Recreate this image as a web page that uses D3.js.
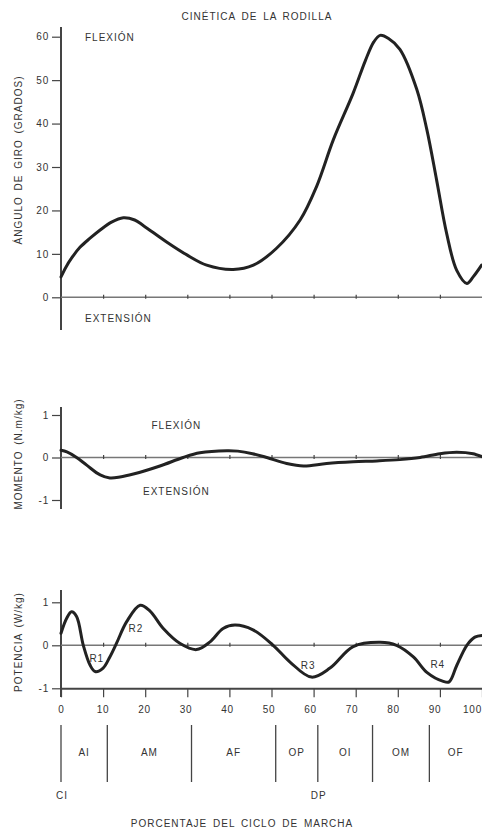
<!DOCTYPE html>
<html>
<head>
<meta charset="utf-8">
<script src="https://cdn.jsdelivr.net/npm/d3@7"></script>
<style>
  body { margin: 0; background: #fff; }
  svg text { font-family: "Liberation Sans", Arial, sans-serif; fill: #333; }
</style>
</head>
<body>
<div id="chart"></div>
<script>
// percent of gait cycle for each series
const anglePct = [0, 1.2, 2.5, 4.5, 6.9, 9.3, 12, 14.8, 17.5, 19.6, 25, 30, 34.6, 40.9, 45.7, 51.2, 56.8, 60.7, 64.7, 69.4, 72.3, 74.3, 75.8, 77.8, 80.5, 84.5, 86.9, 89.2, 91.6, 94, 96.4, 97.9, 99.9];
const angleDeg = [4.7, 7, 9, 11.5, 13.6, 15.5, 17.3, 18.3, 17.8, 16.5, 12.8, 9.7, 7.4, 6.4, 7.4, 11.3, 17.8, 25.5, 36.3, 47, 54.5, 58.8, 60.3, 59.6, 57.1, 47.9, 38.6, 27.1, 14.7, 6.2, 3.2, 4.7, 7.4];

const momentPct = [0, 1.4, 3.7, 6.1, 9.3, 11.6, 14, 17.2, 23.5, 29, 33, 39.4, 42, 45.5, 48.9, 53.6, 57.6, 63.1, 69.4, 75, 80.5, 85.3, 90, 94, 97.9, 100];
const momentVal = [0.17, 0.13, 0, -0.18, -0.41, -0.48, -0.46, -0.39, -0.2, 0, 0.11, 0.16, 0.15, 0.09, 0, -0.14, -0.2, -0.14, -0.1, -0.08, -0.05, 0, 0.09, 0.125, 0.09, 0.02];

const powerPct = [0, 1.35, 2.5, 3.7, 5.3, 6.9, 8.1, 10, 11.6, 13.2, 15.6, 18.8, 21.1, 24.3, 28.3, 32.2, 35.4, 38.5, 41.3, 45.6, 50.4, 54.4, 59.5, 63.9, 69.4, 75.8, 79.7, 83.7, 86.9, 90.8, 92.2, 94, 96.4, 98.3, 100];
const powerVal = [0.28, 0.63, 0.78, 0.67, 0, -0.46, -0.61, -0.53, -0.27, 0.05, 0.55, 0.93, 0.8, 0.39, 0.04, -0.1, 0.08, 0.39, 0.47, 0.36, 0, -0.39, -0.74, -0.53, -0.03, 0.07, 0, -0.27, -0.63, -0.84, -0.85, -0.47, 0, 0.19, 0.23];

const angleTicks = [0, 10, 20, 30, 40, 50, 60];
const unitTicks = [-1, 0, 1];
const pctTicks = [0, 10, 20, 30, 40, 50, 60, 70, 80, 90, 100];

// gait phases
const phaseBounds = [0, 11, 31, 51, 61, 74, 87.5];
const phaseLabels = ["AI", "AM", "AF", "OP", "OI", "OM", "OF"];
const eventPct = [0, 61];
const eventLabels = ["CI", "DP"];

const powerNotes = [{t: "R1", x: 8.5, y: -0.3}, {t: "R2", x: 17.8, y: 0.4}, {t: "R3", x: 58.7, y: -0.47}, {t: "R4", x: 89.5, y: -0.44}];

const width = 482, height = 829;
const svg = d3.select("#chart").append("svg")
    .attr("width", width)
    .attr("height", height);

// scales
let x = d3.scaleLinear().domain([0, 100]).range([61, 482]);
let yAngle = d3.scaleLinear().domain([0, 60]).range([297.3, 36.7]);
let yMoment = d3.scaleLinear().domain([-1, 1]).range([500, 415]);
let yPower = d3.scaleLinear().domain([-1, 1]).range([688.3, 602.3]);

const axisCol = "#444", zeroCol = "#777", curveCol = "#222";

function letters(sel, size, ls, ws){
    sel.style("font-size", size + "px")
       .style("letter-spacing", ls + "px")
       .style("word-spacing", ws + "px");
    return sel;
}

function yAxis(y, ticks, top, bottom){
    let g = svg.append("g")
        .attr("transform", "translate(" + x(0) + ",0)")
        .call(d3.axisLeft(y).tickValues(ticks).tickSize(9).tickPadding(3).tickFormat(d => String(d)));
    g.select(".domain").remove();
    g.selectAll(".tick line").attr("stroke", axisCol).attr("stroke-width", 1.2);
    letters(g.selectAll("text"), 10, 0.8, 0).style("font-family", "Liberation Sans, Arial, sans-serif").attr("fill", "#333");
    g.append("line")
        .attr("x1", 0).attr("x2", 0)
        .attr("y1", top).attr("y2", bottom)
        .attr("stroke", axisCol).attr("stroke-width", 2);
}

function zeroLine(y){
    svg.append("line")
        .attr("x1", x(0)).attr("x2", x(100))
        .attr("y1", y(0)).attr("y2", y(0))
        .attr("stroke", zeroCol).attr("stroke-width", 1.4);
    let g = svg.append("g")
        .attr("transform", "translate(0," + (y(0) + 1.5) + ")")
        .call(d3.axisTop(x).tickValues(pctTicks.slice(1, 10)).tickSize(4).tickFormat(""));
    g.select(".domain").remove();
    g.selectAll(".tick line").attr("stroke", axisCol).attr("stroke-width", 1.2);
}

function curve(px, vals, y){
    let pts = px.map((p, i) => [p, vals[i]]);
    let line = d3.line()
        .x(d => x(d[0]))
        .y(d => y(d[1]))
        .curve(d3.curveCatmullRom.alpha(0.5));
    svg.append("path")
        .datum(pts)
        .attr("d", line)
        .attr("fill", "none")
        .attr("stroke", curveCol)
        .attr("stroke-width", 3)
        .attr("stroke-linejoin", "round")
        .attr("stroke-linecap", "round");
}

function label(t, px, py, size, anchor, rot){
    let s = svg.append("text")
        .attr("text-anchor", anchor || "start")
        .attr("dominant-baseline", "central")
        .text(t);
    if (rot) s.attr("transform", "translate(" + px + "," + py + ") rotate(-90)");
    else s.attr("x", px).attr("y", py);
    letters(s, size, 1, 2);
    return s;
}

// title
label("CINÉTICA DE LA RODILLA", 257, 16.5, 10, "middle");

// ---- knee angle
yAxis(yAngle, angleTicks, 27, 330);
zeroLine(yAngle);
curve(anglePct, angleDeg, yAngle);
label("ÁNGULO DE GIRO (GRADOS)", 18, 160, 10, "middle", true);
label("FLEXIÓN", 85, 37.7, 10, "start");
label("EXTENSIÓN", 85, 318, 10, "start");

// ---- moment
yAxis(yMoment, unitTicks, 407, 509);
zeroLine(yMoment);
curve(momentPct, momentVal, yMoment);
label("MOMENTO  (N.m/kg)", 18, 454, 10, "middle", true);
label("FLEXIÓN", 151.5, 425, 10, "start");
label("EXTENSIÓN", 143, 491, 10, "start");

// ---- power
yAxis(yPower, unitTicks, 590, 697);
zeroLine(yPower);
let bx = svg.append("g")
    .attr("transform", "translate(0," + yPower(-1) + ")")
    .call(d3.axisBottom(x).tickValues(pctTicks).tickSize(9).tickSizeOuter(0).tickPadding(9));
bx.select(".domain").attr("stroke", axisCol).attr("stroke-width", 2);
bx.selectAll(".tick line").attr("stroke", axisCol).attr("stroke-width", 1.2);
letters(bx.selectAll("text"), 10, 0.8, 0)
    .style("font-family", "Liberation Sans, Arial, sans-serif")
    .attr("fill", "#333")
    .attr("dx", d => d == 100 ? -10 : -d * 0.06);
curve(powerPct, powerVal, yPower);
label("POTENCIA  (W/kg)", 18, 642, 10, "middle", true);
powerNotes.forEach(n => label(n.t, x(n.x), yPower(n.y), 10, "middle"));

// ---- phases
svg.selectAll(".phase")
    .data(phaseBounds)
    .enter().append("line")
    .attr("x1", d => x(d)).attr("x2", d => x(d))
    .attr("y1", 725).attr("y2", 782)
    .attr("stroke", axisCol).attr("stroke-width", 1.3);
phaseLabels.forEach((t, i) => {
    let a = phaseBounds[i], b = i + 1 < phaseBounds.length ? phaseBounds[i + 1] : 100;
    label(t, x((a + b) / 2), 752, 10, "middle");
});
eventLabels.forEach((t, i) => label(t, x(eventPct[i]) + 1, 795, 10, "middle"));

label("PORCENTAJE DEL CICLO DE MARCHA", 242, 823, 10, "middle");
</script>
</body>
</html>
